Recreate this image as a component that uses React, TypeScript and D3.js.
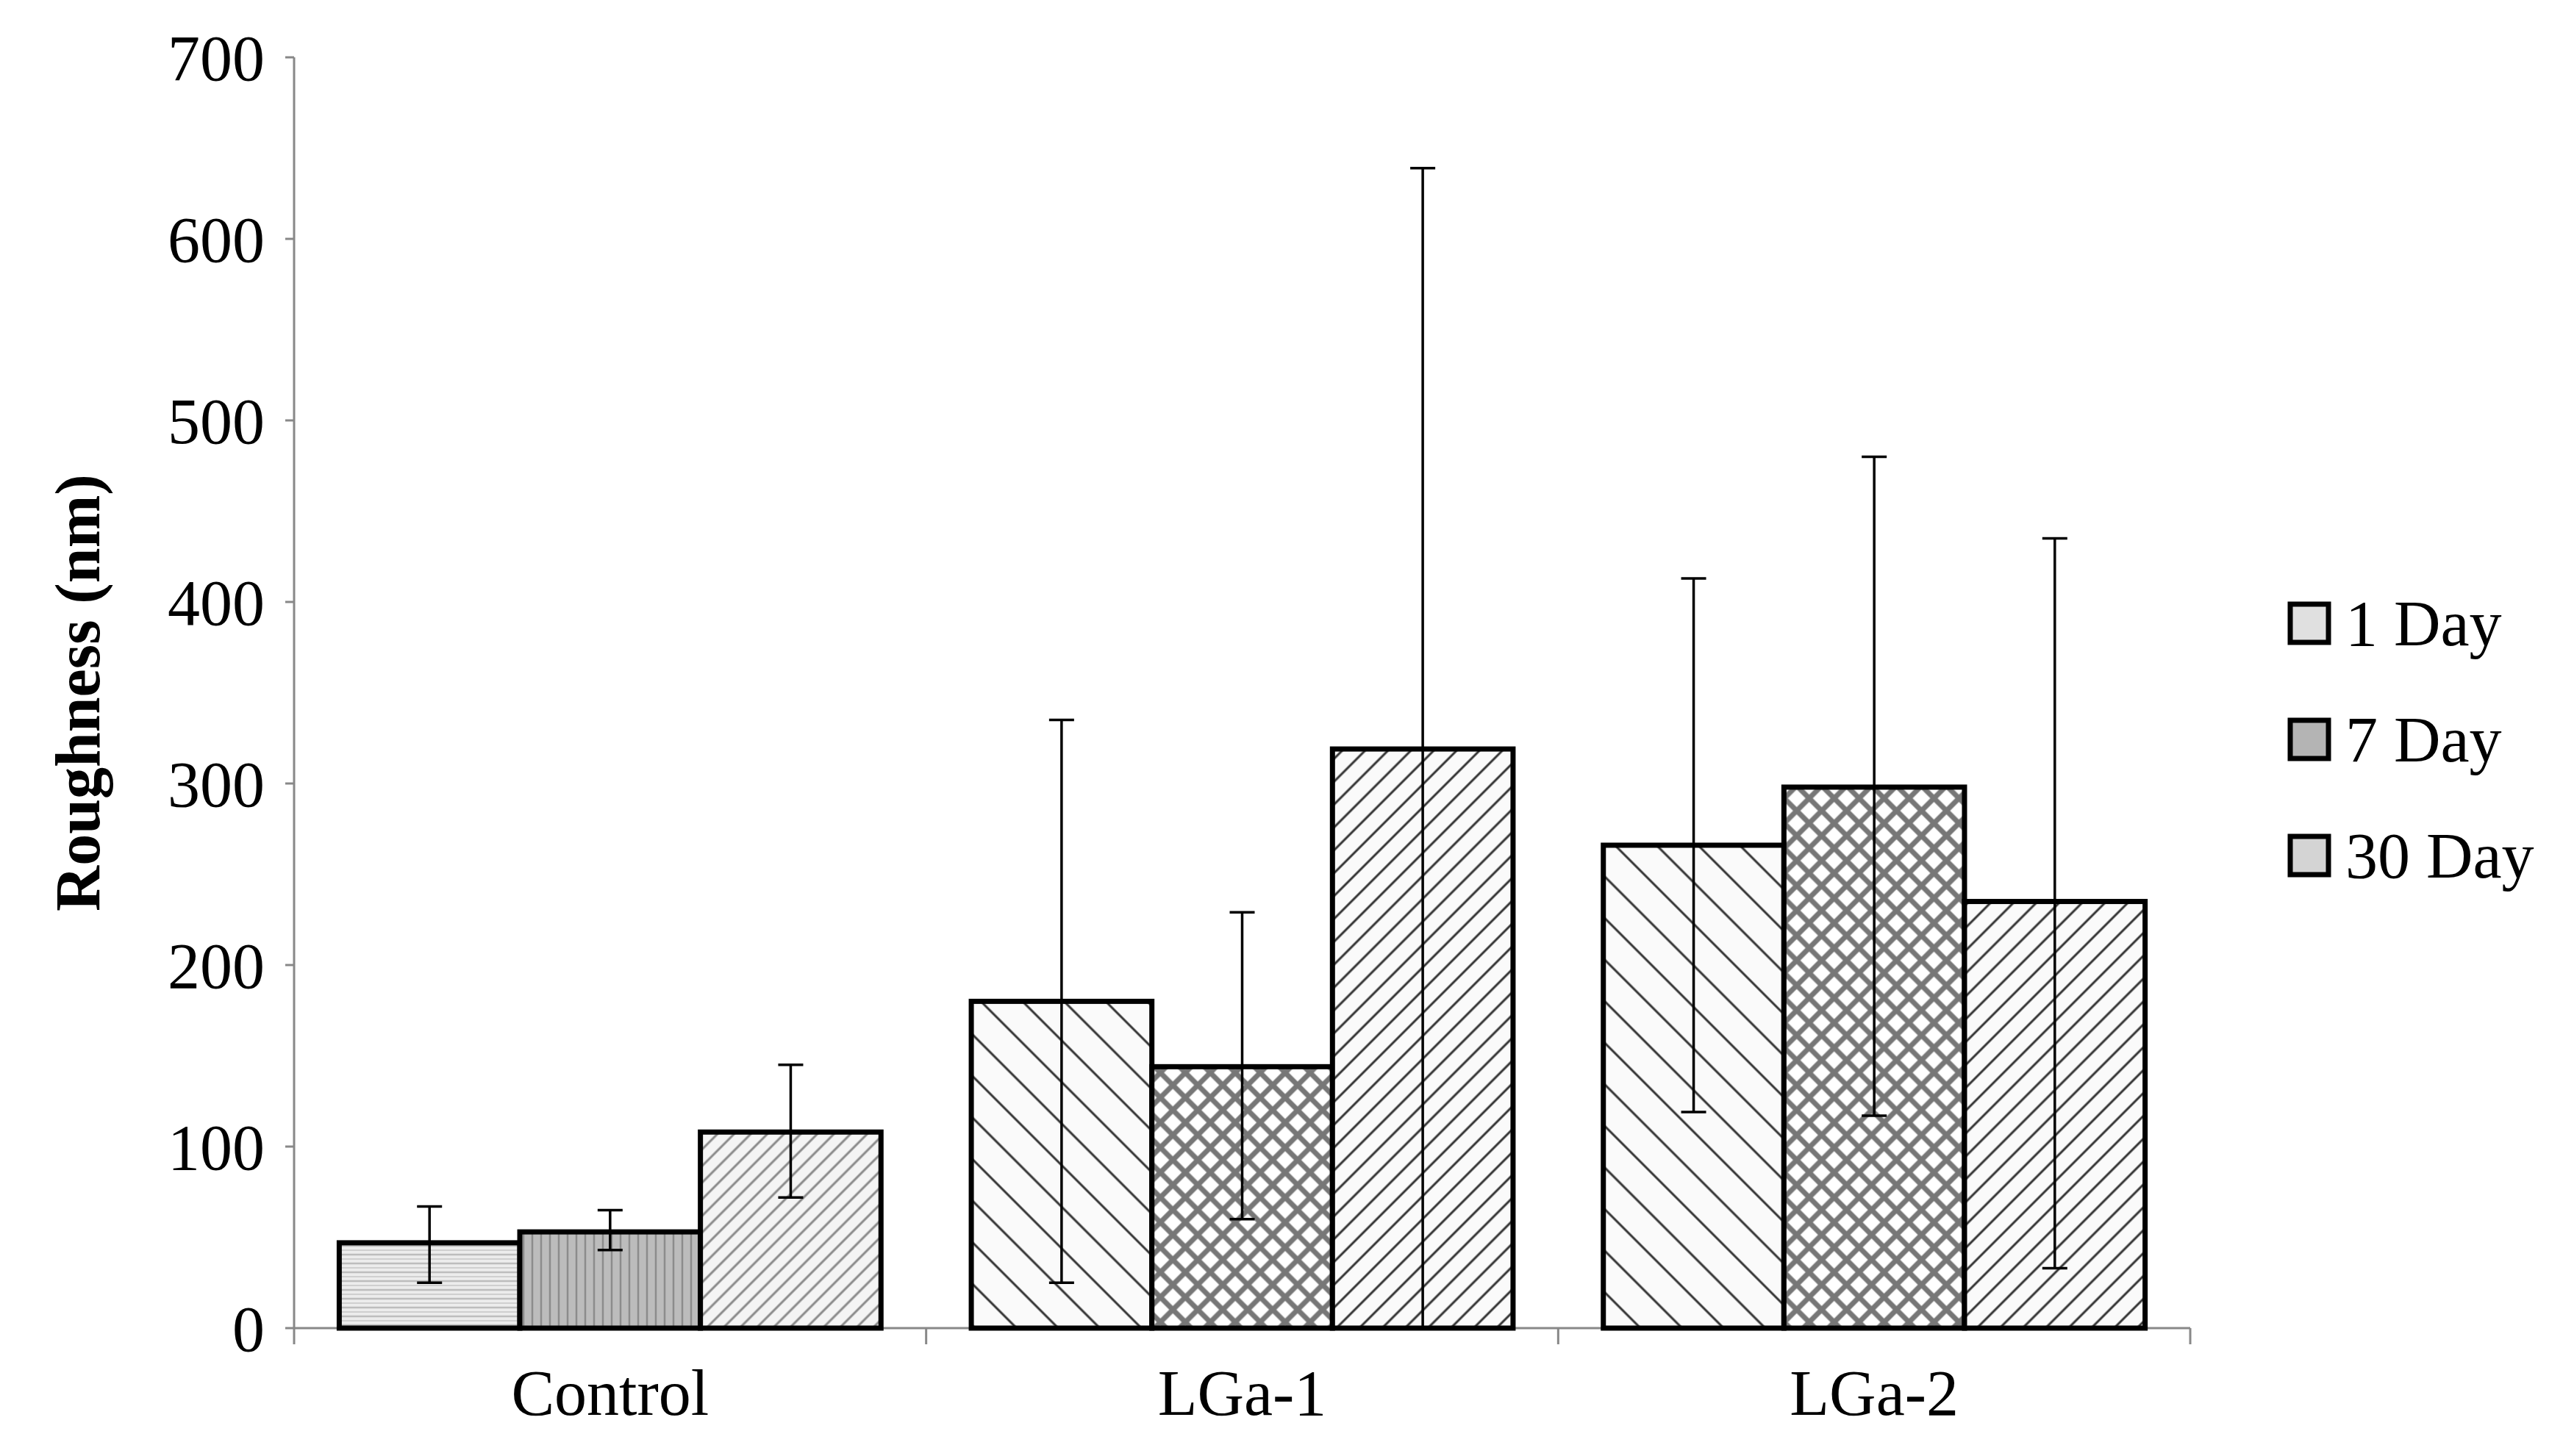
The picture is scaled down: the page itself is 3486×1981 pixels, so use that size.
import React, { useEffect } from 'react'
import * as d3 from 'd3'

const categories = ['Control', 'LGa-1', 'LGa-2']
const seriesNames = ['1 Day', '7 Day', '30 Day']
const means = [
  [47, 53, 108],
  [180, 144, 319],
  [266, 298, 235],
]
const errLow = [
  [25, 43, 72],
  [25, 60, 0],
  [119, 117, 33],
]
const errHigh = [
  [67, 65, 145],
  [335, 229, 639],
  [413, 480, 435],
]
const yTicks = [0, 100, 200, 300, 400, 500, 600, 700]
const legendFills = ['#e0e0e0', '#b4b4b4', '#d4d4d4']

const W = 3486
const H = 1981
const FONT = '"Liberation Serif", "Times New Roman", serif'

// pattern id per bar [group][series]
const patternIds = [
  ['pHoriz', 'pVert', 'pBackFine'],
  ['pFwd', 'pCross', 'pBack'],
  ['pFwd', 'pCross', 'pBack'],
]

export default function App() {
  useEffect(() => {
    document.body.style.margin = '0'
  }, [])

  const x0 = d3.scaleBand().domain(categories).range([400, 2979])
  const x1 = d3.scaleBand().domain(seriesNames).range([0, x0.bandwidth()]).paddingOuter(0.25)
  const y = d3.scaleLinear().domain([0, 700]).range([1807, 78])
  const bw = x1.bandwidth()

  return (
    <svg width={W} height={H} style={{ display: 'block', background: '#fff' }} fontFamily={FONT}>
      <defs>
        <pattern id="pHoriz" width="12" height="12" patternUnits="userSpaceOnUse">
          <rect width="12" height="12" fill="#ececec" />
          <line x1="0" y1="3" x2="12" y2="3" stroke="#bdbdbd" strokeWidth="2.5" />
          <line x1="0" y1="9" x2="12" y2="9" stroke="#cfcfcf" strokeWidth="2" />
        </pattern>
        <pattern id="pVert" width="12" height="12" patternUnits="userSpaceOnUse">
          <rect width="12" height="12" fill="#bcbcbc" />
          <line x1="4" y1="0" x2="4" y2="12" stroke="#8c8c8c" strokeWidth="2.5" />
        </pattern>
        <pattern id="pBackFine" width="16" height="16" patternUnits="userSpaceOnUse" patternTransform="rotate(-45)">
          <rect width="16" height="16" fill="#f4f4f4" />
          <line x1="0" y1="5" x2="16" y2="5" stroke="#8a8a8a" strokeWidth="3" />
        </pattern>
        <pattern id="pFwd" width="40" height="40" patternUnits="userSpaceOnUse" patternTransform="rotate(45)">
          <rect width="40" height="40" fill="#fafafa" />
          <line x1="0" y1="20" x2="40" y2="20" stroke="#333" strokeWidth="3" />
        </pattern>
        <pattern id="pBack" width="22" height="22" patternUnits="userSpaceOnUse" patternTransform="rotate(-45)">
          <rect width="22" height="22" fill="#fafafa" />
          <line x1="0" y1="11" x2="22" y2="11" stroke="#333" strokeWidth="3" />
        </pattern>
        <pattern id="pCross" width="24" height="24" patternUnits="userSpaceOnUse" patternTransform="rotate(45)">
          <rect width="24" height="24" fill="#fff" />
          <line x1="0" y1="12" x2="24" y2="12" stroke="#777" strokeWidth="7" />
          <line x1="12" y1="0" x2="12" y2="24" stroke="#777" strokeWidth="7" />
        </pattern>
      </defs>

      {/* y axis */}
      <line x1={400} x2={400} y1={y(700)} y2={y(0)} stroke="#888" strokeWidth={3} />
      {yTicks.map(t => (
        <g key={t}>
          <line x1={388} x2={400} y1={y(t)} y2={y(t)} stroke="#888" strokeWidth={3} />
          <text x={360} y={y(t)} dy="0.35em" textAnchor="end" fontSize={88}>{t}</text>
        </g>
      ))}
      <text transform={`translate(105,${y(350)}) rotate(-90)`} textAnchor="middle" dy="0.35em" fontSize={86} fontWeight="bold">Roughness (nm)</text>

      {/* x axis */}
      <line x1={400} x2={2979} y1={y(0)} y2={y(0)} stroke="#888" strokeWidth={3} />
      {[...categories.map(c => x0(c) as number), 2979].map((v, i) => (
        <line key={i} x1={v} x2={v} y1={y(0)} y2={y(0) + 22} stroke="#888" strokeWidth={3} />
      ))}
      {categories.map(c => (
        <text key={c} x={(x0(c) as number) + x0.bandwidth() / 2} y={1925} textAnchor="middle" fontSize={88}>{c}</text>
      ))}

      {/* bars */}
      {categories.map((c, gi) =>
        seriesNames.map((s, si) => {
          const bx = (x0(c) as number) + (x1(s) as number)
          const v = means[gi][si]
          return (
            <rect key={c + s} x={bx} y={y(v)} width={bw} height={y(0) - y(v)}
              fill={`url(#${patternIds[gi][si]})`} stroke="#000" strokeWidth={7} />
          )
        })
      )}

      {/* error bars */}
      {categories.map((c, gi) =>
        seriesNames.map((s, si) => {
          const cx = (x0(c) as number) + (x1(s) as number) + bw / 2
          const lo = y(errLow[gi][si])
          const hi = y(errHigh[gi][si])
          return (
            <g key={'e' + c + s} stroke="#000" strokeWidth={3.5}>
              <line x1={cx} x2={cx} y1={lo} y2={hi} />
              <line x1={cx - 17} x2={cx + 17} y1={hi} y2={hi} />
              <line x1={cx - 17} x2={cx + 17} y1={lo} y2={lo} />
            </g>
          )
        })
      )}

      {/* legend */}
      {seriesNames.map((s, i) => {
        const cy = 847 + i * 158
        return (
          <g key={s}>
            <rect x={3115} y={cy - 25} width={52} height={52} fill={legendFills[i]} stroke="#000" strokeWidth={7} />
            <text x={3190} y={cy} dy="0.35em" fontSize={88}>{s}</text>
          </g>
        )
      })}
    </svg>
  )
}
